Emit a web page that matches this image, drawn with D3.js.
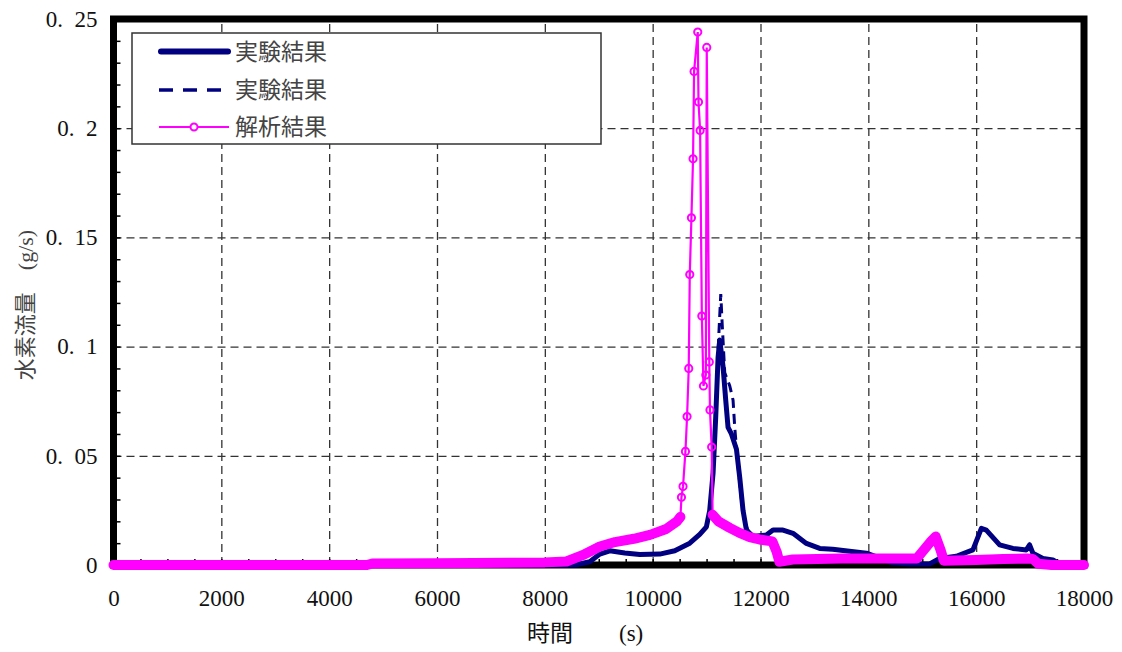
<!DOCTYPE html>
<html><head><meta charset="utf-8">
<script src="https://cdn.jsdelivr.net/npm/d3@7"></script>
<style>
html,body{margin:0;padding:0;background:#fff;}
svg{display:block;}
text{white-space:pre;}
</style></head>
<body>
<svg id="c" width="1122" height="652"></svg>
<script>
// ---------- data ----------
const xTickValues = [0,2000,4000,6000,8000,10000,12000,14000,16000,18000];
const xTickLabels = ["0","2000","4000","6000","8000","10000","12000","14000","16000","18000"];
const yTickValues = [0,0.05,0.1,0.15,0.2,0.25];
const yTickLabels = ["0","0.  05","0.  1","0.  15","0.  2","0.  25"];
const seriesNames = ["実験結果","実験結果","解析結果"];

// 実験結果 (solid)
const expSolidTime = [0,8000,8556,8834,9019,9205,9483,9761,10132,10410,10688,10873,10997,11058,11120,11170,11213,11244,11305,11355,11398,11461,11554,11615,11676,11739,11861,12110,12232,12417,12603,12851,13098,13339,13964,14451,14766,15137,15322,15632,15940,16096,16188,16435,16682,16930,16991,17052,17238,17423,17549,17733,18000];
const expSolidValue = [0,0,0,0.0015,0.005,0.0065,0.0055,0.0048,0.005,0.0065,0.01,0.014,0.0175,0.025,0.042,0.068,0.095,0.103,0.091,0.0755,0.063,0.06,0.053,0.04,0.025,0.016,0.013,0.0137,0.016,0.016,0.0145,0.0099,0.0076,0.0072,0.0054,0.001,0.0005,0.0005,0.003,0.004,0.0069,0.0168,0.016,0.0092,0.0076,0.0069,0.0092,0.0054,0.003,0.0023,0.0005,0,0];

// 実験結果 (dashed)
const expDashTime = [0,8000,8556,8834,9019,9205,9483,9761,10132,10410,10688,10873,10997,11058,11120,11170,11226,11263,11290,11337,11430,11491,11522,11584,11646,11708,11800,12110,12232,12417,12603,12851,13098,13339,13964,14451,14766,15137,15322,15632,15940,16096,16188,16435,16682,16930,16991,17052,17238,17423,17549,17733,18000];
const expDashValue = [0,0,0,0.0015,0.005,0.0065,0.0055,0.0048,0.005,0.0065,0.01,0.014,0.0175,0.025,0.042,0.07,0.105,0.124,0.11,0.088,0.082,0.0755,0.063,0.045,0.03,0.02,0.0135,0.0137,0.016,0.016,0.0145,0.0099,0.0076,0.0072,0.0054,0.001,0.0005,0.0005,0.003,0.004,0.0069,0.0168,0.016,0.0092,0.0076,0.0069,0.0092,0.0054,0.003,0.0023,0.0005,0,0];

// 解析結果
const anaTime = [0,4700,4800,6000,8000,8400,8700,9020,9300,9650,9950,10250,10450,10515,10534,10563,10608,10638,10669,10688,10719,10749,10768,10836,10850,10880,10912,10942,10986,11003,11050,11063,11094,11112,11220,11430,11610,11800,11980,12220,12300,12350,12600,13500,14500,14900,15000,15150,15250,15340,15400,16000,16500,16950,17050,17150,17400,18000];
const anaValue = [0,0,0.0007,0.0008,0.0012,0.0016,0.0045,0.0085,0.0105,0.012,0.0138,0.0165,0.02,0.022,0.031,0.036,0.052,0.068,0.09,0.133,0.159,0.186,0.226,0.244,0.212,0.199,0.114,0.082,0.087,0.237,0.093,0.071,0.054,0.023,0.02,0.017,0.0147,0.0128,0.0117,0.0108,0.006,0.0015,0.0025,0.003,0.003,0.003,0.006,0.0105,0.013,0.0069,0.002,0.0023,0.0027,0.003,0.0028,0.0006,0,0];
// spike (sparsely sampled, individual markers visible)
const anaSpikeStart = 10515, anaSpikeEnd = 11112;

// ---------- drawing ----------
const svg = d3.select("#c");
const L = 113.5, R = 1084, T = 19, B = 565;
const x = d3.scaleLinear().domain([0,18000]).range([L,R]);
const y = d3.scaleLinear().domain([0,0.25]).range([B,T]);

const navy = "#000080", mag = "#ff00ff";
const serif = "'Liberation Serif','DejaVu Serif',serif";
const cjk = "'Noto Sans CJK JP','Noto Sans',sans-serif";

// gridlines
const gridX = svg.append("g").attr("transform",`translate(0,${B})`)
  .call(d3.axisBottom(x).tickValues(xTickValues.slice(1,-1)).tickSize(-(B-T)).tickFormat(""));
gridX.select(".domain").remove();
gridX.selectAll("line").attr("stroke","#333").attr("stroke-width",1.3).attr("stroke-dasharray","8,5");
const gridY = svg.append("g").attr("transform",`translate(${L},0)`)
  .call(d3.axisLeft(y).tickValues(yTickValues.slice(1,-1)).tickSize(-(R-L)).tickFormat(""));
gridY.select(".domain").remove();
gridY.selectAll("line").attr("stroke","#333").attr("stroke-width",1.3).attr("stroke-dasharray","8,5");

// minor ticks
const minorY = svg.append("g").attr("transform",`translate(${L},0)`)
  .call(d3.axisLeft(y).tickValues(d3.range(0,0.2501,0.01)).tickSize(-7).tickFormat(""));
minorY.select(".domain").remove();
minorY.selectAll("line").attr("stroke","#000").attr("stroke-width",1.5);
const minorX = svg.append("g").attr("transform",`translate(0,${B})`)
  .call(d3.axisBottom(x).tickValues(d3.range(500,18000,500)).tickSize(-6).tickFormat(""));
minorX.select(".domain").remove();
minorX.selectAll("line").attr("stroke","#000").attr("stroke-width",1.5);

// frame
svg.append("rect").attr("x",L).attr("y",T).attr("width",R-L).attr("height",B-T)
  .attr("fill","none").attr("stroke","#000").attr("stroke-width",7);

// tick labels
const xAx = svg.append("g").attr("transform",`translate(0,${B})`)
  .call(d3.axisBottom(x).tickValues(xTickValues).tickSize(0).tickPadding(25).tickFormat((d,i)=>xTickLabels[i]));
xAx.select(".domain").remove();
xAx.selectAll("text").attr("font-family",serif).attr("font-size",23).attr("fill","#111");
const yAx = svg.append("g").attr("transform",`translate(${L},0)`)
  .call(d3.axisLeft(y).tickValues(yTickValues).tickSize(0).tickPadding(16).tickFormat((d,i)=>yTickLabels[i]));
yAx.select(".domain").remove();
yAx.selectAll("text").attr("font-family",serif).attr("font-size",23).attr("fill","#111");

// axis titles
const xt = svg.append("text").attr("x",527).attr("y",641).attr("text-anchor","start")
  .attr("font-size",23).attr("fill","#111");
xt.append("tspan").attr("font-family",cjk).text("時間");
xt.append("tspan").attr("font-family",serif).attr("dx",46).text("(s)");
const yt = svg.append("text").attr("transform","translate(33,305) rotate(-90)").attr("text-anchor","middle")
  .attr("font-size",22).attr("fill","#444");
yt.append("tspan").attr("font-family",cjk).text("水素流量");
yt.append("tspan").attr("font-family",serif).attr("dx",22).text("(g/s)");

// series
const line = d3.line().x(d=>x(d[0])).y(d=>y(d[1]));
const solidData = expSolidTime.map((t,i)=>[t,expSolidValue[i]]);
const dashData = expDashTime.map((t,i)=>[t,expDashValue[i]]);
const anaData = anaTime.map((t,i)=>[t,anaValue[i]]);

svg.append("path").datum(solidData).attr("d",line).attr("fill","none")
  .attr("stroke",navy).attr("stroke-width",5).attr("stroke-linejoin","round");
svg.append("path").datum(dashData).attr("d",line).attr("fill","none")
  .attr("stroke",navy).attr("stroke-width",3).attr("stroke-dasharray","10,6");

// analysis: thin connecting line + markers; dense parts where markers overlap into a band
svg.append("path").datum(anaData).attr("d",line).attr("fill","none")
  .attr("stroke",mag).attr("stroke-width",2.2);
svg.append("g").selectAll("circle").data(anaData.filter(d=>d[0]>=anaSpikeStart && d[0]<=anaSpikeEnd || d[0]===12300 || d[0]===15340))
  .join("circle").attr("cx",d=>x(d[0])).attr("cy",d=>y(d[1])).attr("r",3.6)
  .attr("fill","none").attr("stroke",mag).attr("stroke-width",2);
const band = d3.line().defined(d=>d[0]<=anaSpikeStart || d[0]>=anaSpikeEnd).x(d=>x(d[0])).y(d=>y(d[1]));
svg.append("path").datum(anaData).attr("d",band).attr("fill","none")
  .attr("stroke",mag).attr("stroke-width",10).attr("stroke-linecap","round").attr("stroke-linejoin","round");

// legend
const lg = svg.append("g");
lg.append("rect").attr("x",132).attr("y",33).attr("width",469).attr("height",111)
  .attr("fill","#fff").attr("stroke","#333").attr("stroke-width",1.5);
const rows = [51.5,90,127];
lg.append("line").attr("x1",161).attr("x2",228).attr("y1",rows[0]).attr("y2",rows[0])
  .attr("stroke",navy).attr("stroke-width",6).attr("stroke-linecap","round");
lg.append("line").attr("x1",159).attr("x2",229).attr("y1",rows[1]).attr("y2",rows[1])
  .attr("stroke",navy).attr("stroke-width",3.5).attr("stroke-dasharray","14,10");
lg.append("line").attr("x1",159).attr("x2",229).attr("y1",rows[2]).attr("y2",rows[2])
  .attr("stroke",mag).attr("stroke-width",2);
lg.append("circle").attr("cx",194).attr("cy",rows[2]).attr("r",3.5).attr("fill","#fff")
  .attr("stroke",mag).attr("stroke-width",2);
lg.selectAll("text.lab").data(seriesNames).join("text").attr("class","lab")
  .attr("x",235).attr("y",(d,i)=>rows[i]+8).attr("font-family",cjk).attr("font-size",23)
  .attr("fill","#444").text(d=>d);
</script>
</body></html>
